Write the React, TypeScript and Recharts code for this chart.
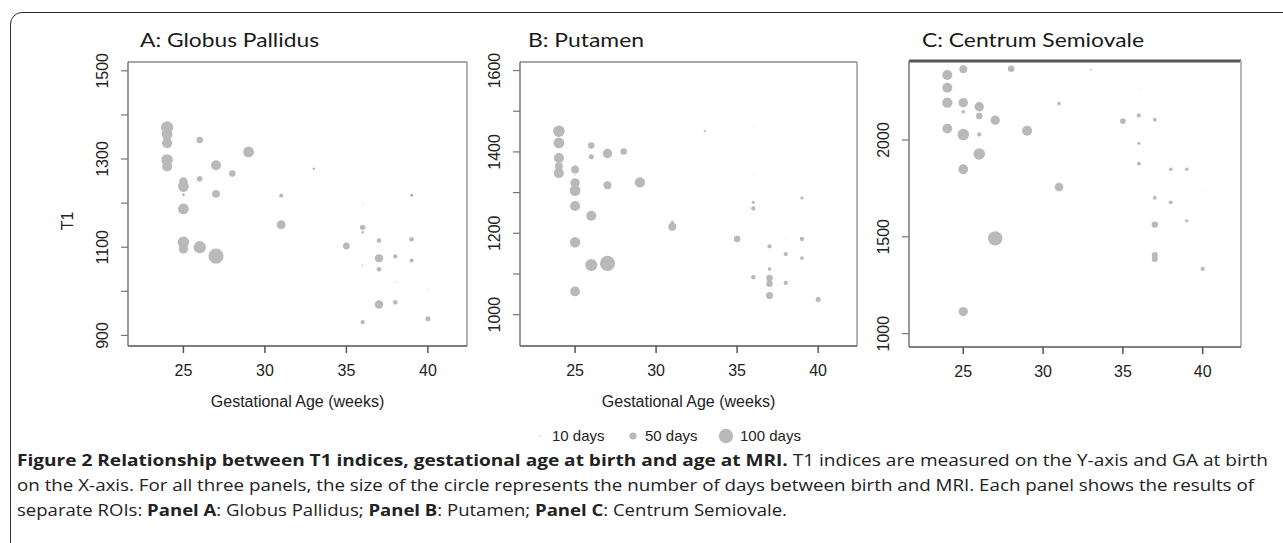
import React from "react";
import { ScatterChart, Scatter, XAxis, YAxis, ReferenceLine } from "recharts";

// Panel A: Globus Pallidus (GA at birth in weeks, T1, days between birth and MRI)
const gpWeeks = [24, 24, 24, 24, 24, 25, 25, 25, 25, 25, 25, 25, 26, 26, 26, 27, 27, 27, 28, 29, 31, 31, 33, 35, 36, 36, 36, 36, 36, 37, 37, 37, 37, 38, 38, 38, 39, 39, 39, 40, 40];
const gpT1 = [1372, 1356, 1336, 1298, 1283, 1249, 1238, 1230, 1219, 1187, 1111, 1096, 1343, 1255, 1100, 1286, 1221, 1080, 1267, 1316, 1217, 1151, 1278, 1103, 1198, 1145, 1134, 1059, 930, 1115, 1075, 1050, 970, 1079, 1021, 975, 1218, 1118, 1070, 1005, 938];
const gpDays = [85, 75, 70, 80, 70, 60, 75, 30, 20, 75, 80, 65, 45, 40, 85, 70, 55, 105, 45, 75, 28, 62, 18, 47, 8, 38, 18, 10, 30, 32, 57, 33, 60, 30, 8, 32, 22, 32, 28, 8, 35];

// Panel B: Putamen
const ptWeeks = [24, 24, 24, 24, 24, 25, 25, 25, 25, 25, 25, 25, 26, 26, 26, 26, 27, 27, 27, 28, 29, 31, 31, 33, 35, 36, 36, 36, 36, 36, 36, 37, 37, 37, 37, 37, 38, 38, 38, 39, 39, 39, 39, 40, 40];
const ptT1 = [1451, 1422, 1385, 1365, 1348, 1357, 1343, 1324, 1305, 1267, 1178, 1057, 1416, 1388, 1243, 1122, 1396, 1318, 1126, 1401, 1325, 1227, 1216, 1451, 1186, 1461, 1343, 1276, 1261, 1246, 1092, 1168, 1112, 1090, 1076, 1047, 1189, 1149, 1078, 1287, 1186, 1139, 993, 1159, 1037];
const ptDays = [80, 75, 70, 55, 70, 55, 10, 65, 75, 70, 72, 68, 45, 35, 70, 85, 65, 55, 105, 45, 72, 20, 55, 15, 45, 6, 6, 22, 30, 6, 30, 30, 25, 45, 45, 50, 6, 30, 30, 22, 30, 27, 6, 6, 35];

// Panel C: Centrum Semiovale
const csWeeks = [24, 24, 24, 24, 25, 25, 25, 25, 25, 25, 26, 26, 26, 26, 27, 27, 28, 29, 31, 31, 33, 35, 36, 36, 36, 36, 37, 37, 37, 37, 37, 38, 38, 39, 39, 40, 40];
const csT1 = [2336, 2270, 2193, 2059, 2365, 2193, 2146, 2028, 1849, 1114, 2172, 2124, 2029, 1928, 2102, 1492, 2368, 2048, 2188, 1757, 2363, 2098, 2267, 2127, 1983, 1878, 2105, 1702, 1563, 1406, 1386, 1849, 1678, 1849, 1583, 1733, 1334];
const csDays = [70, 70, 72, 68, 55, 65, 25, 80, 68, 65, 65, 45, 30, 80, 65, 100, 45, 70, 25, 60, 12, 40, 6, 30, 22, 27, 27, 27, 45, 42, 42, 25, 27, 25, 22, 6, 30];

const xTicks = [25, 30, 35, 40];
const gpTicks = [900, 1000, 1100, 1200, 1300, 1400, 1500];
const gpLabels = [900, 1100, 1300, 1500];
const ptTicks = [1000, 1100, 1200, 1300, 1400, 1500, 1600];
const ptLabels = [1000, 1200, 1400, 1600];
const csTicks = [1000, 1500, 2000];
const legendDays = [10, 50, 100];

const X_DOMAIN: [number, number] = [21.6, 42.4];
const DOT = "#b9b9b9";
const SANS = "'Liberation Sans', Arial, sans-serif";
const CH = 420; // chart height
const XAXIS_H = 62;
const YAXIS_W = 60;

const radius = (days: number) => days * 0.072;

const toPoints = (w: number[], t: number[], d: number[]) =>
  w.map((ga, i) => ({ ga, t1: t[i], days: d[i] }));

const Dot = (p: any) => (
  <circle cx={p.cx} cy={p.cy} r={radius(p.payload.days)} fill={DOT} />
);

const makeYTick = (labels: number[]) => (props: any) => {
  const { x, y, payload } = props;
  if (!labels.includes(payload.value)) return <g />;
  return (
    <text
      x={x}
      y={y}
      transform={`rotate(-90, ${x}, ${y})`}
      textAnchor="middle"
      fontSize={16}
      fill="#222"
      fontFamily={SANS}
    >
      {payload.value}
    </text>
  );
};

interface PanelProps {
  left: number;
  width: number;
  plot: { l: number; r: number; t: number; b: number };
  data: { ga: number; t1: number; days: number }[];
  yDomain: [number, number];
  yTicks: number[];
  yLabels: number[];
  xLabel?: string;
  topLine: { stroke: string; width: number };
  rightLine: { stroke: string; width: number };
}

const Panel: React.FC<PanelProps> = ({ left, width, plot, data, yDomain, yTicks, yLabels, xLabel, topLine, rightLine }) => (
  <div style={{ position: "absolute", left, top: 0 }}>
    <ScatterChart
      width={width}
      height={CH}
      margin={{
        top: plot.t,
        bottom: CH - plot.b - XAXIS_H,
        left: plot.l - left - YAXIS_W,
        right: left + width - plot.r,
      }}
    >
      <XAxis
        type="number"
        dataKey="ga"
        domain={X_DOMAIN}
        ticks={xTicks}
        height={XAXIS_H}
        tickSize={7}
        tickMargin={12}
        axisLine={{ stroke: "#555", strokeWidth: 1.5 }}
        tickLine={{ stroke: "#555", strokeWidth: 1.5 }}
        tick={{ fill: "#222", fontSize: 16, fontFamily: SANS }}
        label={
          xLabel
            ? { value: xLabel, position: "insideBottom", offset: 1, fill: "#222", fontSize: 16, fontFamily: SANS }
            : undefined
        }
      />
      <YAxis
        type="number"
        dataKey="t1"
        domain={yDomain}
        ticks={yTicks}
        interval={0}
        width={YAXIS_W}
        tickSize={7}
        tickMargin={13}
        axisLine={{ stroke: "#777", strokeWidth: 1.5 }}
        tickLine={{ stroke: "#777", strokeWidth: 1.2 }}
        tick={makeYTick(yLabels)}
      />
      <ReferenceLine y={yDomain[1]} stroke={topLine.stroke} strokeWidth={topLine.width} />
      <ReferenceLine x={X_DOMAIN[1]} stroke={rightLine.stroke} strokeWidth={rightLine.width} />
      <Scatter data={data} shape={Dot} isAnimationActive={false} />
    </ScatterChart>
  </div>
);

const captionStyle = { fontFamily: "'Open Sans', sans-serif", fontSize: 16, fill: "#222" };

export default function App() {
  return (
    <div
      style={{
        position: "absolute",
        left: 0,
        top: 0,
        width: 1283,
        height: 543,
        overflow: "hidden",
        background: "#fff",
      }}
    >
      <div
        style={{
          position: "absolute",
          left: 10,
          top: 12,
          width: 1400,
          height: 560,
          border: "1.5px solid #2a2a2a",
          borderRadius: 12,
        }}
      />
      <Panel
        left={20}
        width={470}
        plot={{ l: 128, r: 467, t: 62, b: 346 }}
        data={toPoints(gpWeeks, gpT1, gpDays)}
        yDomain={[876, 1520]}
        yTicks={gpTicks}
        yLabels={gpLabels}
        xLabel="Gestational Age (weeks)"
        topLine={{ stroke: "#8a8a8a", width: 1.3 }}
        rightLine={{ stroke: "#8a8a8a", width: 1.3 }}
      />
      <Panel
        left={420}
        width={460}
        plot={{ l: 520, r: 857, t: 62, b: 346 }}
        data={toPoints(ptWeeks, ptT1, ptDays)}
        yDomain={[923, 1621]}
        yTicks={ptTicks}
        yLabels={ptLabels}
        xLabel="Gestational Age (weeks)"
        topLine={{ stroke: "#8a8a8a", width: 1.3 }}
        rightLine={{ stroke: "#8a8a8a", width: 1.3 }}
      />
      <Panel
        left={820}
        width={463}
        plot={{ l: 909, r: 1241, t: 61, b: 347 }}
        data={toPoints(csWeeks, csT1, csDays)}
        yDomain={[931, 2408]}
        yTicks={csTicks}
        yLabels={csTicks}
        topLine={{ stroke: "#555", width: 3 }}
        rightLine={{ stroke: "#b5b5b5", width: 2 }}
      />
      <svg
        width={1283}
        height={543}
        style={{ position: "absolute", left: 0, top: 0, pointerEvents: "none" }}
      >
        <g fontFamily="Lato, 'Open Sans', sans-serif" fontSize={20} fill="#1a1a1a">
          <text x={140} y={47} textLength={179} lengthAdjust="spacingAndGlyphs">A: Globus Pallidus</text>
          <text x={528} y={47} textLength={116} lengthAdjust="spacingAndGlyphs">B: Putamen</text>
          <text x={922} y={47} textLength={222} lengthAdjust="spacingAndGlyphs">C: Centrum Semiovale</text>
        </g>
        <text
          x={73}
          y={221}
          transform="rotate(-90, 73, 221)"
          textAnchor="middle"
          fontSize={16}
          fill="#222"
          fontFamily={SANS}
        >
          T1
        </text>
        {legendDays.map((d, i) => (
          <g key={d}>
            <circle cx={540 + i * 93} cy={436} r={radius(d)} fill={DOT} />
            <text x={552 + i * 93 + (i === 2 ? 2 : 0)} y={441} fontSize={15} fill="#222" fontFamily={SANS}>
              {d} days
            </text>
          </g>
        ))}
        <text x={17} y={466} textLength={1251} lengthAdjust="spacingAndGlyphs" {...captionStyle}>
          <tspan fontWeight={700}>Figure 2 Relationship between T1 indices, gestational age at birth and age at MRI.</tspan>
          <tspan> T1 indices are measured on the Y-axis and GA at birth</tspan>
        </text>
        <text x={17} y={491} textLength={1237} lengthAdjust="spacingAndGlyphs" {...captionStyle}>
          on the X-axis. For all three panels, the size of the circle represents the number of days between birth and MRI. Each panel shows the results of
        </text>
        <text x={17} y={516} textLength={770} lengthAdjust="spacingAndGlyphs" {...captionStyle}>
          <tspan>separate ROIs: </tspan>
          <tspan fontWeight={700}>Panel A</tspan>
          <tspan>: Globus Pallidus; </tspan>
          <tspan fontWeight={700}>Panel B</tspan>
          <tspan>: Putamen; </tspan>
          <tspan fontWeight={700}>Panel C</tspan>
          <tspan>: Centrum Semiovale.</tspan>
        </text>
      </svg>
    </div>
  );
}
